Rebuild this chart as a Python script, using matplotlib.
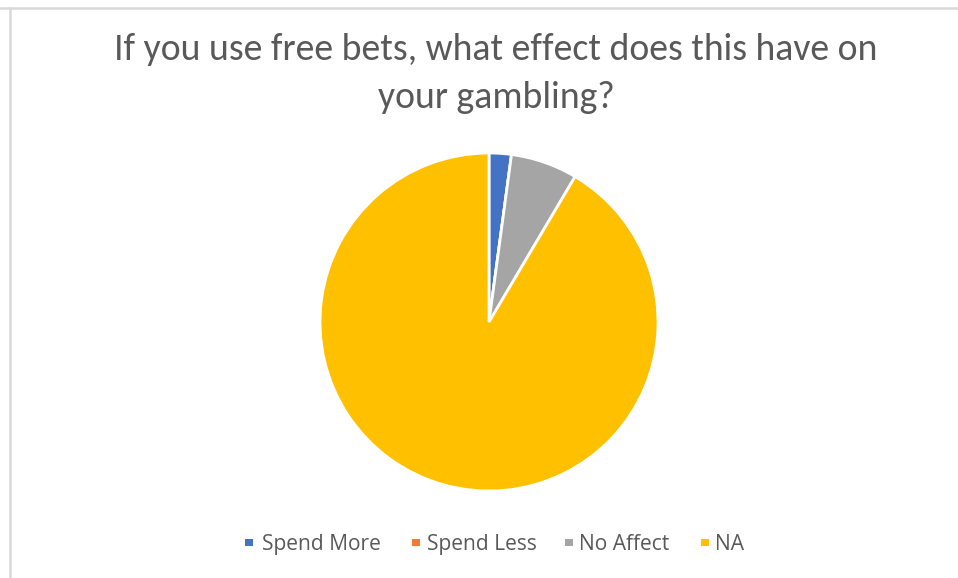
import matplotlib
matplotlib.use("Agg")
import matplotlib.pyplot as plt
from matplotlib.lines import Line2D
from matplotlib.patches import Rectangle
from matplotlib import font_manager

categories = ["Spend More", "Spend Less", "No Affect", "NA"]
counts = [1, 0, 3, 43]
colors = ["#4472C4", "#ED7D31", "#A5A5A5", "#FFC000"]
title_lines = ["If you use free bets, what effect does this have on", "your gambling?"]

W, H = 958, 578
DPI = 100
fig = plt.figure(figsize=(W / DPI, H / DPI), dpi=DPI)
fig.patch.set_facecolor("white")

installed = {f.name for f in font_manager.fontManager.ttflist}
title_font = "Carlito" if "Carlito" in installed else "DejaVu Sans"
legend_font = "Open Sans" if "Open Sans" in installed else "DejaVu Sans"
text_color = "#595959"


def px(x, y):
    """pixel position from the top-left corner -> figure fraction"""
    return x / W, 1 - y / H


# thin frame lines on the top and left edge
fig.add_artist(Line2D([0, 1], [1 - 8 / H, 1 - 8 / H], transform=fig.transFigure,
                      color="#D9D9D9", lw=1.8))
fig.add_artist(Line2D([10 / W, 10 / W], [0, 1 - 8 / H], transform=fig.transFigure,
                      color="#D9D9D9", lw=1.8))

# pie axes: centre (489, 322) px, radius 169 px
cx, cy, r = 489, 322, 169
ax = fig.add_axes([(cx - r) / W, 1 - (cy + r) / H, 2 * r / W, 2 * r / H])
wedges, _ = ax.pie(counts, colors=colors, startangle=90, counterclock=False,
                   radius=1.0,
                   wedgeprops=dict(edgecolor="white", linewidth=2.0))
ax.set_xlim(-1, 1)
ax.set_ylim(-1, 1)
ax.set_aspect("equal")
ax.axis("off")

renderer = fig.canvas.get_renderer()

# title, two centred lines, sized to span about 765 px
t1 = fig.text(*px(496, 50), title_lines[0], ha="center", va="center",
              fontsize=24, color=text_color, family=title_font)
t2 = fig.text(*px(496, 97), title_lines[1], ha="center", va="center",
              fontsize=24, color=text_color, family=title_font)
fs = 24 * 765 / t1.get_window_extent(renderer).width
t1.set_fontsize(fs)
t2.set_fontsize(fs)

# legend: small coloured squares followed by labels
sq_x = [245, 412, 565, 701]
txt_x = [262, 427, 579, 715]
leg_y = 542
texts = []
for c, lab, sx, tx in zip(colors, categories, sq_x, txt_x):
    fig.add_artist(Rectangle(px(sx, leg_y + 4), 7.5 / W, 7.5 / H,
                             transform=fig.transFigure, facecolor=c,
                             edgecolor="none"))
    texts.append(fig.text(*px(tx, leg_y), lab, ha="left", va="center_baseline",
                          fontsize=13, color=text_color, family=legend_font))
lfs = 13 * 119 / texts[0].get_window_extent(renderer).width
for t in texts:
    t.set_fontsize(lfs)

fig.savefig("out.png", dpi=DPI, facecolor="white")
